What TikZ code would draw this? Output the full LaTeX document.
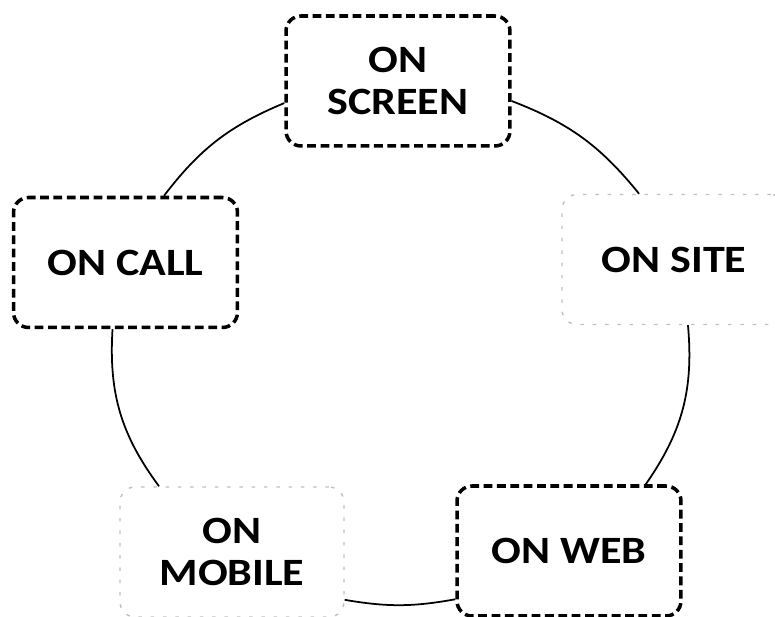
\documentclass[tikz,border=0pt]{standalone}
\usepackage{fontspec}
\setmainfont{Carlito}[FakeStretch=1.14]
\usepackage{tikz}
\usetikzlibrary{
  positioning,
}
\tikzstyle{channel} = [
  rectangle,
  rounded corners=0.3cm,
  minimum width=4.48cm,
  minimum height=2.6cm,
  align=center,
  font=\fontsize{22}{24}\selectfont\bfseries,
]
\tikzstyle{solid box} = [channel, draw, line width=2pt, dash pattern=on 5pt off 2.6pt]
\tikzstyle{faint box} = [channel, draw=black!25, line width=0.8pt, dash pattern=on 2pt off 5pt]
\tikzstyle{link} = [line width=1pt, black]

\begin{document}
\begin{tikzpicture}[x=0.02cm,y=0.02cm]
			\clip (0,0) rectangle (775,617);

			\node[solid box] (screen) at (398,536)   {ON\\SCREEN};
			\node[faint box] (site)   at (674,357.5) {ON SITE};
			\node[solid box] (web)    at (569,66)    {ON WEB};
			\node[faint box] (mobile) at (232,65)    {ON\\MOBILE};
			\node[solid box] (call)   at (125.5,354.5) {ON CALL};

			\draw[link] (screen.-10) to[bend left=15] (site.118);
			\draw[link] (site.-78) to[bend left=20] (web.41);
			\draw[link] (web.203) to[bend left=10] (mobile.-23);
			\draw[link] (mobile.138) to[bend left=20] (call.-101);
			\draw[link] (call.60) to[bend left=15] (screen.191);
		\end{tikzpicture}
\end{document}
